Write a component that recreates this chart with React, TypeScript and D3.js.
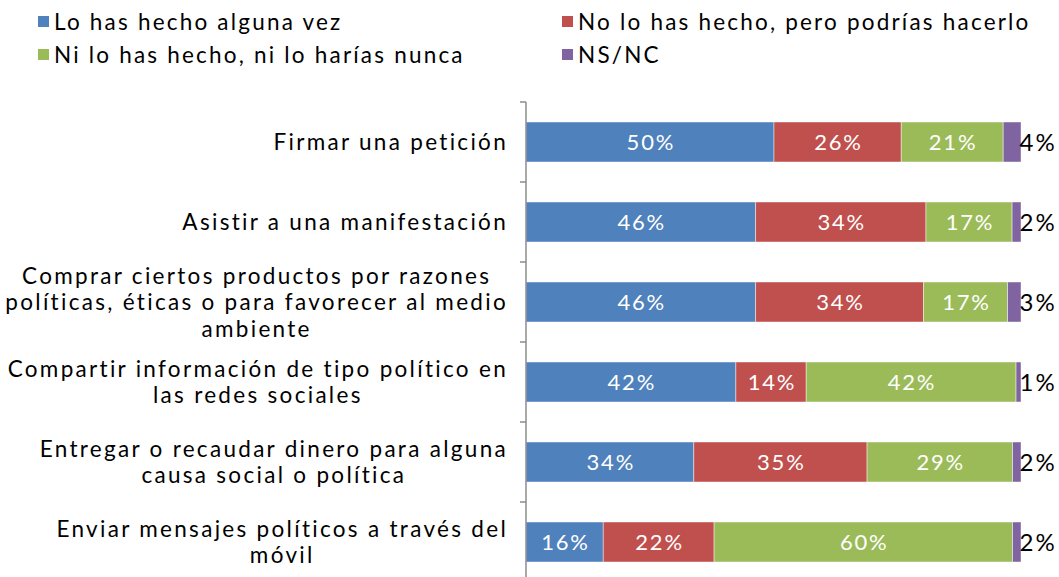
import React, { useEffect, useRef } from "react";
import * as d3 from "d3";

const categories: string[][] = [
  ["Firmar una petición"],
  ["Asistir a una manifestación"],
  ["Comprar ciertos productos por razones", "políticas, éticas o para favorecer al medio", "ambiente"],
  ["Compartir información de tipo político en", "las redes sociales"],
  ["Entregar o recaudar dinero para alguna", "causa social o política"],
  ["Enviar mensajes políticos a través del", "móvil"],
];

const seriesNames = [
  "Lo has hecho alguna vez",
  "No lo has hecho, pero podrías hacerlo",
  "Ni lo has hecho, ni lo harías nunca",
  "NS/NC",
];
const colors = ["#4F81BD", "#C0504D", "#9BBB59", "#8064A2"];

const hecho = [50.1, 46.4, 46.4, 42.4, 33.9, 15.6];
const podrias = [25.7, 34.4, 33.9, 14.2, 35.0, 22.4];
const nunca = [20.6, 17.4, 17.0, 42.4, 29.4, 60.3];
const nsnc = [3.6, 1.8, 2.7, 1.0, 1.7, 1.7];

const W = 1059;
const H = 577;
const FONT = "Lato, 'Open Sans', sans-serif";

export default function App() {
  const ref = useRef<SVGSVGElement>(null);

  useEffect(() => {
    const svg = d3.select(ref.current);
    svg.selectAll("*").remove();

    const rows = categories.map((c, i) => ({
      key: String(i),
      s0: hecho[i],
      s1: podrias[i],
      s2: nunca[i],
      s3: nsnc[i],
    }));
    const keys = ["s0", "s1", "s2", "s3"];
    const stack = d3.stack<any>().keys(keys).offset(d3.stackOffsetExpand);
    const series = stack(rows);

    const x = d3.scaleLinear().domain([0, 1]).range([526, 1021]);
    const y = d3
      .scaleBand<string>()
      .domain(rows.map((r) => r.key))
      .range([102, 582])
      .paddingInner(0.5)
      .paddingOuter(0.25);

    // bars
    series.forEach((s, si) => {
      const g = svg.append("g");
      g.selectAll("rect")
        .data(s)
        .join("rect")
        .attr("x", (d: any) => x(d[0]))
        .attr("y", (d: any) => y(d.data.key)!)
        .attr("width", (d: any) => x(d[1]) - x(d[0]))
        .attr("height", y.bandwidth())
        .attr("fill", colors[si])
        .attr("stroke", "#ffffff")
        .attr("stroke-opacity", 0.6)
        .attr("stroke-width", 0.75);

      g.selectAll("text")
        .data(s)
        .join("text")
        .attr("x", (d: any) => (si === 3 ? x(1) + 36 : (x(d[0]) + x(d[1])) / 2 + 0.9))
        .attr("y", (d: any) => y(d.data.key)! + y.bandwidth() / 2)
        .attr("dy", "0.36em")
        .attr("text-anchor", si === 3 ? "end" : "middle")
        .attr("fill", si === 3 ? "#000000" : "#ffffff")
        .attr("font-family", FONT)
        .attr("font-size", si === 3 ? 24 : 22)
        .attr("letter-spacing", si === 3 ? 2.2 : 1.8)
        .text((d: any) => `${Math.round(d.data[keys[si]])}%`);
    });

    // axis
    const axis = svg.append("g").attr("transform", `translate(526,0)`);
    axis
      .append("line")
      .attr("x1", 0)
      .attr("x2", 0)
      .attr("y1", 102)
      .attr("y2", 582)
      .attr("stroke", "#8c8c8c")
      .attr("stroke-width", 1.5);
    const step = y.step();
    const tickYs = d3.range(rows.length + 1).map((i) => 102 + i * step);
    axis
      .selectAll("line.tk")
      .data(tickYs)
      .join("line")
      .attr("class", "tk")
      .attr("x1", -6)
      .attr("x2", 0)
      .attr("y1", (d) => d)
      .attr("y2", (d) => d)
      .attr("stroke", "#8c8c8c")
      .attr("stroke-width", 1.5);

    // category labels
    const lineH = 26.5;
    categories.forEach((lines, i) => {
      const cy = y(String(i))! + y.bandwidth() / 2;
      const t = svg
        .append("text")
        .attr("font-family", FONT)
        .attr("font-size", 22.5)
        .attr("letter-spacing", 2.3)
        .attr("fill", "#000")
        .attr("text-anchor", "middle");
      const tsp = lines.map((ln, li) =>
        t
          .append("tspan")
          .attr("y", cy + (li - (lines.length - 1) / 2) * lineH)
          .attr("dy", "0.36em")
          .text(ln)
      );
      const maxW = d3.max(tsp, (s) => (s.node() as SVGTSpanElement).getComputedTextLength()) || 0;
      const cx = 508 - maxW / 2;
      tsp.forEach((s) => s.attr("x", cx));
    });

    // legend
    const legendPos = [
      [38, 22],
      [562, 22],
      [38, 55],
      [562, 55],
    ];
    seriesNames.forEach((n, i) => {
      const [lx, ly] = legendPos[i];
      svg
        .append("rect")
        .attr("x", lx)
        .attr("y", ly - 6)
        .attr("width", 11)
        .attr("height", 11)
        .attr("fill", colors[i]);
      svg
        .append("text")
        .attr("x", lx + 16)
        .attr("y", ly)
        .attr("dy", "0.36em")
        .attr("font-family", FONT)
        .attr("font-size", 22.5)
        .attr("letter-spacing", 2.2)
        .attr("fill", "#000")
        .text(n);
    });
  }, []);

  return (
    <svg
      ref={ref}
      width={W}
      height={H}
      style={{ position: "absolute", left: 0, top: 0, background: "#fff" }}
    />
  );
}
